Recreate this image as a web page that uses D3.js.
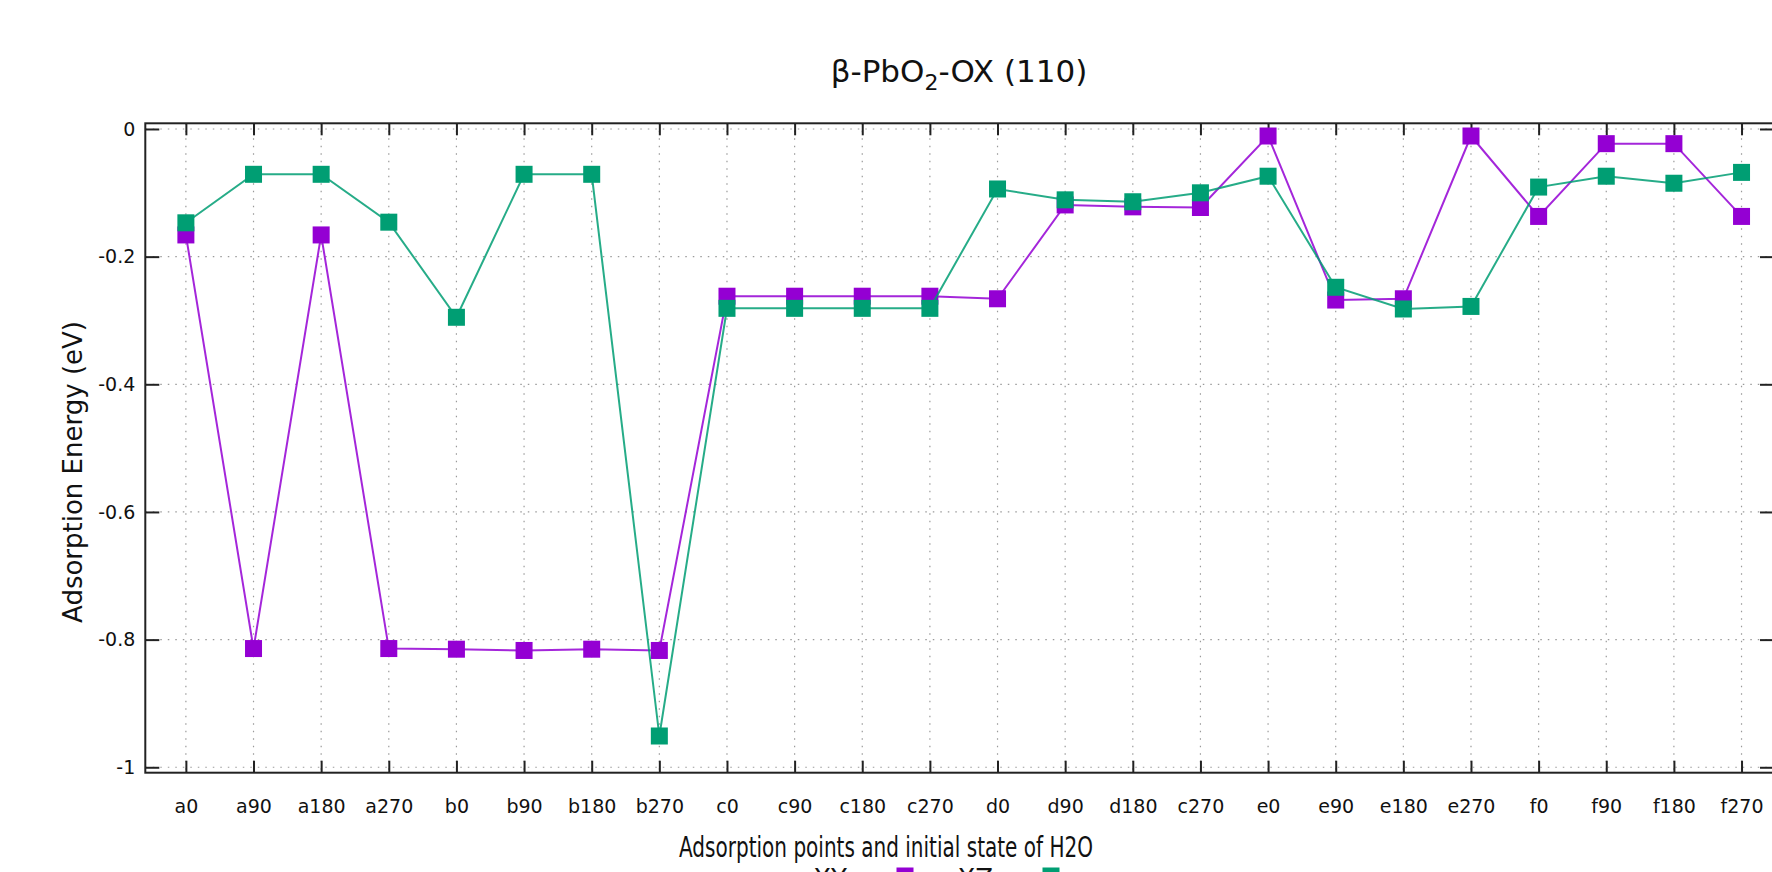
<!DOCTYPE html>
<html>

<head>
  <title>PbO2 adsorption energy</title>
  <meta charset="utf-8" />
  <script src="https://d3js.org/d3.v7.min.js"></script>
  <style>
    body { margin: 0; background: #fff; overflow: hidden; }
    text { font-family: "DejaVu Sans", Verdana, sans-serif; fill: #111; }
    .grid line { stroke: #9a9a9a; stroke-width: 1.2; stroke-dasharray: 1.5 6; }
    .axis path { display: none; }
    .axis line { stroke: #222; stroke-width: 2; }
    .axis text { font-size: 19px; fill: #111; }
  </style>
</head>

<body>
  <svg id="chart" width="1772" height="872"></svg>

  <script>
    // values
    const categories = ["a0", "a90", "a180", "a270", "b0", "b90", "b180", "b270",
      "c0", "c90", "c180", "c270", "d0", "d90", "d180", "c270 ", "e0", "e90", "e180", "e270",
      "f0", "f90", "f180", "f270"];
    const xyValues = [-0.166, -0.814, -0.166, -0.814, -0.815, -0.817, -0.815, -0.817,
      -0.262, -0.262, -0.262, -0.262, -0.266, -0.119, -0.122, -0.123,
      -0.011, -0.268, -0.266, -0.011, -0.137, -0.023, -0.023, -0.137];
    const xzValues = [-0.147, -0.071, -0.071, -0.146, -0.295, -0.071, -0.071, -0.951,
      -0.281, -0.281, -0.281, -0.281, -0.094, -0.111, -0.114, -0.100,
      -0.074, -0.248, -0.282, -0.278, -0.091, -0.074, -0.085, -0.068];
    const yTicks = [0, -0.2, -0.4, -0.6, -0.8, -1];
    const seriesNames = ["XY", "XZ"];
    const seriesColors = ["#9400d3", "#009e73"];

    const svg = d3.select("#chart");
    const plot = { left: 145.3, right: 1774, top: 123.3, bottom: 772.7 };

    const x = d3.scaleLinear().domain([-0.6, 23.48]).range([plot.left, plot.right]);
    const y = d3.scaleLinear().domain([-1.0085, 0.0089]).range([plot.bottom, plot.top]);
    const idx = d3.range(categories.length);

    // grid
    const grid = svg.append("g").attr("class", "grid");
    grid.selectAll("line.v").data(idx).join("line")
      .attr("x1", d => x(d)).attr("x2", d => x(d))
      .attr("y1", plot.top).attr("y2", plot.bottom);
    grid.selectAll("line.h").data(yTicks).join("line")
      .attr("x1", plot.left).attr("x2", plot.right)
      .attr("y1", d => y(d)).attr("y2", d => y(d));

    // axes, ticks pointing inward like gnuplot
    svg.append("g").attr("class", "axis")
      .attr("transform", "translate(0," + plot.bottom + ")")
      .call(d3.axisBottom(x).tickValues(idx).tickSize(-12).tickPadding(27)
        .tickFormat(i => categories[i].trim()));
    svg.append("g").attr("class", "axis")
      .attr("transform", "translate(0," + plot.top + ")")
      .call(d3.axisTop(x).tickValues(idx).tickSize(-12).tickFormat(""));
    svg.append("g").attr("class", "axis")
      .attr("transform", "translate(" + plot.left + ",0)")
      .call(d3.axisLeft(y).tickValues(yTicks).tickSize(-14).tickPadding(10)
        .tickFormat(d => String(d)));
    svg.append("g").attr("class", "axis")
      .attr("transform", "translate(" + plot.right + ",0)")
      .call(d3.axisRight(y).tickValues(yTicks).tickSize(-14).tickFormat(""));

    svg.append("rect")
      .attr("x", plot.left).attr("y", plot.top)
      .attr("width", plot.right - plot.left).attr("height", plot.bottom - plot.top)
      .attr("fill", "none").attr("stroke", "#222").attr("stroke-width", 2);

    // series
    const line = d3.line().x((d, i) => x(i)).y(d => y(d));
    [xyValues, xzValues].forEach((vals, s) => {
      const g = svg.append("g");
      g.append("path").datum(vals)
        .attr("d", line)
        .attr("fill", "none")
        .attr("stroke", seriesColors[s])
        .attr("stroke-opacity", 0.85)
        .attr("stroke-width", 2);
      g.selectAll("rect").data(vals).join("rect")
        .attr("x", (d, i) => x(i) - 8.5).attr("y", d => y(d) - 8.5)
        .attr("width", 17).attr("height", 17)
        .attr("fill", seriesColors[s]);
    });

    // title and labels
    const title = svg.append("text")
      .attr("x", 959).attr("y", 82)
      .attr("text-anchor", "middle")
      .style("font-size", "31px");
    title.append("tspan").text("β-PbO");
    title.append("tspan").attr("dy", 8).style("font-size", "22px").text("2");
    title.append("tspan").attr("dy", -8).text("-OX (110)");

    svg.append("text")
      .attr("x", 679).attr("y", 857)
      .attr("textLength", 414).attr("lengthAdjust", "spacingAndGlyphs")
      .style("font-size", "28px")
      .text("Adsorption points and initial state of H2O");

    svg.append("text")
      .attr("transform", "translate(82,472) rotate(-90)")
      .attr("text-anchor", "middle")
      .style("font-size", "26px")
      .text("Adsorption Energy (eV)");

    // legend, mostly below the picture edge
    const legendX = [847, 993];
    seriesNames.forEach((name, s) => {
      const lg = svg.append("g").attr("transform", "translate(" + legendX[s] + ",876)");
      lg.append("text").attr("x", 0).attr("y", 12)
        .attr("text-anchor", "end")
        .style("font-size", "26px")
        .text(name);
      lg.append("line").attr("x1", 20).attr("x2", 96)
        .attr("stroke", seriesColors[s]).attr("stroke-width", 2);
      lg.append("rect").attr("x", 58 - 8.5).attr("y", -8.5)
        .attr("width", 17).attr("height", 17)
        .attr("fill", seriesColors[s]);
    });
  </script>
</body>

</html>
